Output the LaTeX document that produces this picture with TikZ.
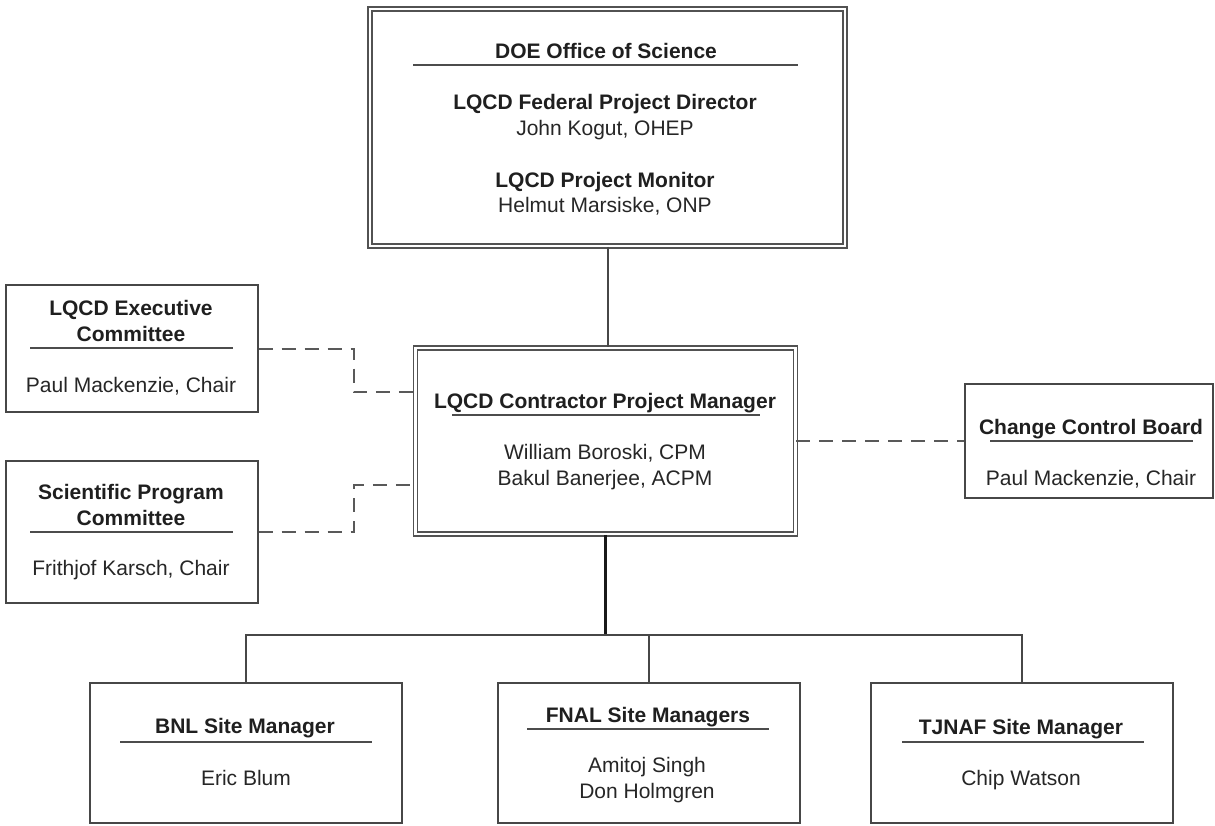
\documentclass[tikz,border=0pt]{standalone}
\usepackage{fontspec}
\setmainfont{Liberation Sans}
\usepackage{tikz}
\usetikzlibrary{positioning}

\tikzset{
  orgbox/.style={draw=black!72, line width=1pt, fill=white, inner sep=0pt},
  dblbox/.style={draw=black!68, line width=0.8pt, double=white, double distance=1.3pt, fill=white, inner sep=0pt},
  head/.style={font=\fontsize{10.5}{13}\selectfont\bfseries, text=black!88, anchor=base, inner sep=0pt, align=center},
  who/.style={font=\fontsize{10.5}{13}\selectfont, text=black!85, anchor=base, inner sep=0pt, align=center},
  titlerule/.style={draw=black!70, line width=1pt},
  orgline/.style={draw=black!72, line width=1pt},
  dashline/.style={draw=black!65, line width=1pt, dash pattern=on 7pt off 4.5pt},
}

\begin{document}
\begin{tikzpicture}[x=0.5pt, y=-0.5pt]
\useasboundingbox[fill=white] (0,0) rectangle (1215,825);

% boxes
\node[dblbox, minimum width=237.5pt, minimum height=118.5pt] (doe) at (607.5,127.5) {};
\node[dblbox, minimum width=190pt, minimum height=93pt] (cpm) at (605.5,441) {};
\node[orgbox, minimum width=126pt, minimum height=63.5pt] (exec) at (131.5,348.5) {};
\node[orgbox, minimum width=126pt, minimum height=71pt] (spc) at (131.5,531.5) {};
\node[orgbox, minimum width=124pt, minimum height=57pt] (ccb) at (1089,441) {};
\node[orgbox, minimum width=156pt, minimum height=70pt] (bnl) at (246,752.5) {};
\node[orgbox, minimum width=151pt, minimum height=70pt] (fnal) at (649,752.5) {};
\node[orgbox, minimum width=151pt, minimum height=70pt] (tjnaf) at (1022,752.5) {};

% texts (multi-line nodes sit on their last line)
\node[head] (doeT) at (606,58) {DOE Office of Science};
\draw[titlerule] (413,65) -- (798,65);
\node[head] (fpd) at (605,109) {LQCD Federal Project Director};
\node[who] (fpdN) at (605,135) {John Kogut, OHEP};
\node[head] (pm) at (605,187) {LQCD Project Monitor};
\node[who] (pmN) at (605,212) {Helmut Marsiske, ONP};

\node[head] (cpmT) at (605,408) {LQCD Contractor Project Manager};
\draw[titlerule] (452,415) -- (760,415);
\node[who] (cpmN) at (605,485) {William Boroski, CPM\\Bakul Banerjee, ACPM};

\node[head] (execT) at (131,341) {LQCD Executive\\Committee};
\draw[titlerule] (30,348) -- (233,348);
\node[who] (execN) at (131,392) {Paul Mackenzie, Chair};

\node[head] (spcT) at (131,525) {Scientific Program\\Committee};
\draw[titlerule] (30,532) -- (233,532);
\node[who] (spcN) at (131,575) {Frithjof Karsch, Chair};

\node[head] (ccbT) at (1091,434) {Change Control Board};
\draw[titlerule] (990,441) -- (1193,441);
\node[who] (ccbN) at (1091,485) {Paul Mackenzie, Chair};

\node[head] (bnlT) at (245,733) {BNL Site Manager};
\draw[titlerule] (120,742) -- (372,742);
\node[who] (bnlN) at (246,785) {Eric Blum};

\node[head] (fnalT) at (648,722) {FNAL Site Managers};
\draw[titlerule] (527,729) -- (769,729);
\node[who] (fnalN) at (647,798) {Amitoj Singh\\Don Holmgren};

\node[head] (tjnafT) at (1021,734) {TJNAF Site Manager};
\draw[titlerule] (902,742) -- (1144,742);
\node[who] (tjnafN) at (1021,785) {Chip Watson};

% connectors
\draw[orgline] (doe.south) -- (doe.south |- cpm.north);
\draw[orgline, line width=1.3pt, draw=black!90] (cpm.south) -- ++(0,100) coordinate (hub);
\draw[orgline] (bnl.north) |- (hub) -| (tjnaf.north);
\draw[orgline] (fnal.north) -- (fnal.north |- hub);

\path (cpm.north west) ++(0,45) coordinate (execJ);
\path (cpm.south west) ++(0,-50) coordinate (spcJ);
\draw[dashline] (exec.east) -- ++(95,0) |- (execJ);
\draw[dashline] (spc.east) -- ++(95,0) |- (spcJ);
\draw[dashline] (ccb.west -| cpm.east) -- (ccb.west);
\end{tikzpicture}
\end{document}
